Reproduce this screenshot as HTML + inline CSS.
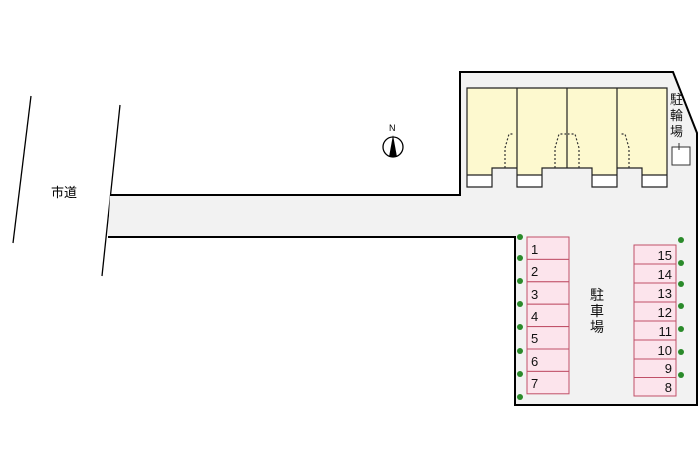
<!DOCTYPE html><html><head><meta charset="utf-8"><style>body{margin:0;background:#fff}svg{display:block}text{font-family:"Liberation Sans","Noto Sans CJK JP",sans-serif}</style></head><body>
<svg width="700" height="466" viewBox="0 0 700 466" xmlns="http://www.w3.org/2000/svg">
<rect width="700" height="466" fill="#fff"/>
<line x1="31" y1="96" x2="13" y2="243" stroke="#000" stroke-width="1.3"/>
<line x1="120" y1="105" x2="102" y2="276" stroke="#000" stroke-width="1.3"/>
<text x="51" y="197" font-size="13">市道</text>
<path d="M110,195 H460 V72 H673 L697,133 V405 H515 V237 H108 Z" fill="#f2f2f2"/>
<path d="M110,195 H460 V72 H673 L697,133 V405 H515 V237 H108" fill="none" stroke="#000" stroke-width="2"/>
<rect x="467" y="88" width="200" height="87" fill="#fdf9cf"/>
<g fill="#f2f2f2"><rect x="492" y="168" width="25" height="20"/><rect x="542" y="168" width="50" height="20"/><rect x="617" y="168" width="25" height="20"/></g>
<g fill="#fff"><rect x="467" y="175" width="25" height="12"/><rect x="517" y="175" width="25" height="12"/><rect x="592" y="175" width="25" height="12"/><rect x="642" y="175" width="25" height="12"/></g>
<path d="M467,88 H667 V187 H642 V168 H617 V187 H592 V168 H542 V187 H517 V168 H492 V187 H467 Z M467,175 H492 M517,175 H542 M592,175 H617 M642,175 H667 M517,88 V187 M567,88 V168 M617,88 V168" fill="none" stroke="#222" stroke-width="1.2"/>
<g fill="none" stroke="#333" stroke-width="1.2" stroke-dasharray="2,2">
<path d="M505,168 V148 L509,134 H513"/><path d="M555,168 V148 L559,134 H566"/><path d="M579,168 V148 L575,134 H568"/><path d="M629,168 V148 L625,134 H620"/></g>
<rect x="672" y="147" width="18" height="18" fill="#fff" stroke="#333"/>
<line x1="679" y1="143" x2="679" y2="150" stroke="#333"/>
<g font-size="13" fill="#111"><text x="670" y="104">駐</text><text x="670" y="120">輪</text><text x="670" y="136">場</text></g>
<circle cx="393" cy="147" r="10" fill="#fff" stroke="#000" stroke-width="1.3"/>
<path d="M393,135 L389,157 H397 Z" fill="#000"/>
<text x="389" y="131" font-size="9">N</text>
<g fill="#fce4ec" stroke="#c05068" stroke-width="1">
<rect x="527" y="237" width="42" height="22.4"/><rect x="527" y="259.4" width="42" height="22.4"/><rect x="527" y="281.8" width="42" height="22.4"/><rect x="527" y="304.2" width="42" height="22.4"/><rect x="527" y="326.6" width="42" height="22.4"/><rect x="527" y="349" width="42" height="22.4"/><rect x="527" y="371.4" width="42" height="22.4"/>
<rect x="634" y="245" width="42" height="19"/><rect x="634" y="264" width="42" height="19"/><rect x="634" y="283" width="42" height="19"/><rect x="634" y="302" width="42" height="19"/><rect x="634" y="321" width="42" height="19"/><rect x="634" y="340" width="42" height="19"/><rect x="634" y="359" width="42" height="18.5"/><rect x="634" y="377.5" width="42" height="18.5"/></g>
<g font-size="13" fill="#111"><text x="531" y="254">1</text><text x="531" y="276">2</text><text x="531" y="299">3</text><text x="531" y="321">4</text><text x="531" y="343">5</text><text x="531" y="366">6</text><text x="531" y="388">7</text></g>
<g font-size="13" fill="#111" text-anchor="end"><text x="672" y="260">15</text><text x="672" y="279">14</text><text x="672" y="298">13</text><text x="672" y="317">12</text><text x="672" y="336">11</text><text x="672" y="355">10</text><text x="672" y="373">9</text><text x="672" y="392">8</text></g>
<g font-size="14" fill="#111"><text x="590" y="300">駐</text><text x="590" y="316">車</text><text x="590" y="332">場</text></g>
<g fill="#2a8a2a"><circle cx="520" cy="237" r="3"/><circle cx="520" cy="258" r="3"/><circle cx="520" cy="281" r="3"/><circle cx="520" cy="304" r="3"/><circle cx="520" cy="327" r="3"/><circle cx="520" cy="351" r="3"/><circle cx="520" cy="374" r="3"/><circle cx="520" cy="397" r="3"/>
<circle cx="681" cy="240" r="3"/><circle cx="681" cy="263" r="3"/><circle cx="681" cy="284" r="3"/><circle cx="681" cy="306" r="3"/><circle cx="681" cy="329" r="3"/><circle cx="681" cy="352" r="3"/><circle cx="681" cy="375" r="3"/></g>
</svg></body></html>
